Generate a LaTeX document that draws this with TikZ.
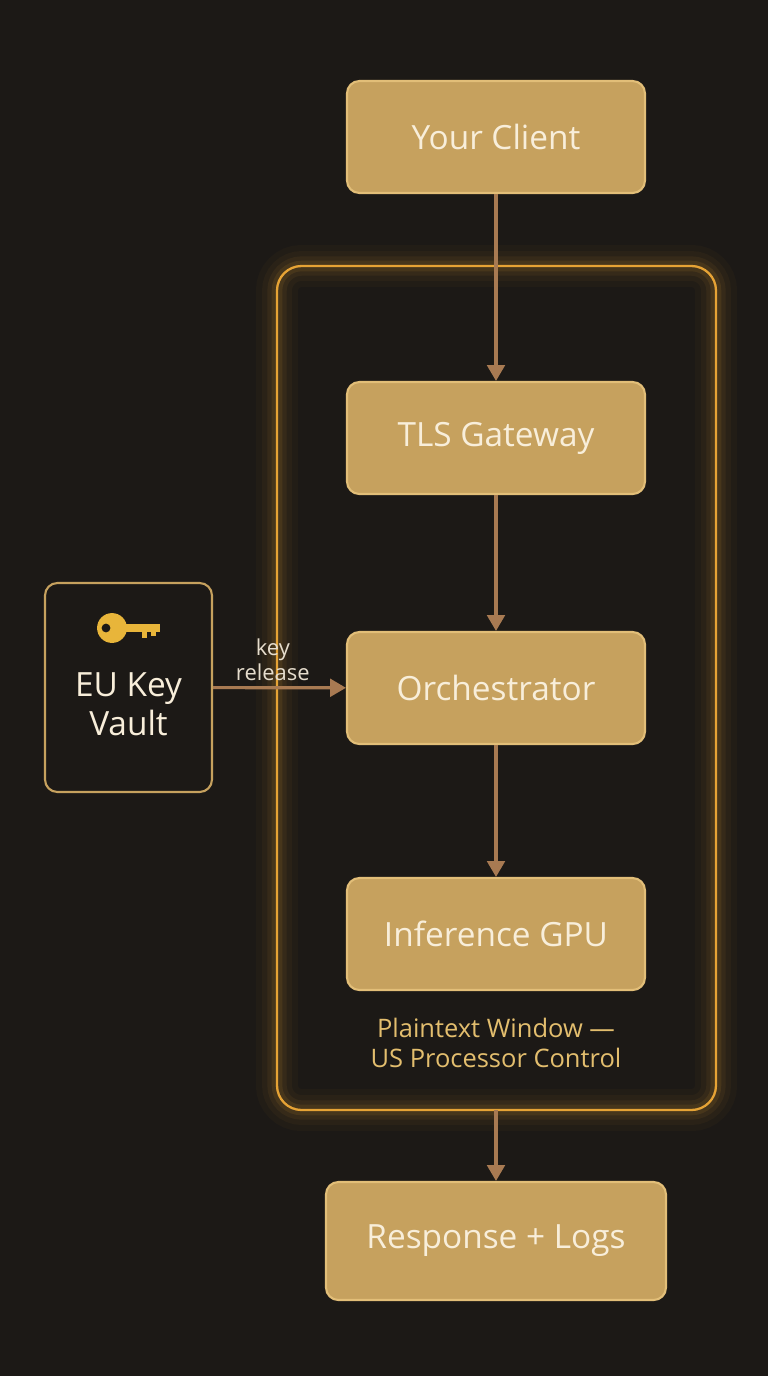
\documentclass[tikz,border=0pt]{standalone}
\usepackage{fontspec}
\setmainfont{Open Sans}
\usetikzlibrary{arrows.meta,positioning}
\definecolor{bgdark}{HTML}{1C1916}
\definecolor{boxfill}{HTML}{C6A15E}
\definecolor{boxline}{HTML}{E2BE78}
\definecolor{boxtext}{HTML}{F8EEDA}
\definecolor{flow}{HTML}{A87A52}
\definecolor{glow}{HTML}{E6A335}
\definecolor{caption}{HTML}{E3BE6E}
\definecolor{keygold}{HTML}{E8B53A}

\begin{document}
\begin{tikzpicture}[x=0.02cm,y=-0.02cm,
  every node/.style={align=center},
  stage/.style={draw=boxline,line width=1.2pt,rounded corners=7pt,fill=boxfill,
    text=boxtext,font=\fontsize{19}{22}\selectfont,minimum width=5.96cm,minimum height=2.24cm},
  vault/.style={draw=boxfill,line width=1.2pt,rounded corners=7pt,fill=bgdark,
    text=boxtext,font=\fontsize{19}{22}\selectfont,minimum width=3.34cm,minimum height=4.18cm},
  to/.style={-{Triangle[length=9pt,width=10pt]},draw=flow,line width=1.8pt}]

  % background and bounds
  \fill[bgdark] (0,0) rectangle (768,1376);
  \useasboundingbox (0,0) rectangle (768,1376);

  % glowing window
  \foreach \w/\o in {24/0.03,17/0.045,11/0.065,6/0.1}
    \draw[glow,line width=\w pt,opacity=\o,rounded corners=14pt] (277,266) rectangle (716,1110);
  \draw[glow,line width=1.3pt,rounded corners=14pt] (277,266) rectangle (716,1110);

  % nodes
  \node[stage] (client) at (496,137) {Your Client};
  \node[stage] (tls) at (496,438) {TLS Gateway};
  \node[stage] (orch) at (496,688) {Orchestrator};
  \node[stage] (gpu) at (496,934) {Inference GPU};
  \node[text=caption,font=\fontsize{14.5}{17}\selectfont] (window) at (496,1043)
    {Plaintext Window —\\US Processor Control};
  \node[stage,minimum width=6.8cm,minimum height=2.36cm] (resp) at (496,1241) {Response + Logs};
  \node[vault] (vault) at (128.5,687.5) {};
  \node[text=boxtext,font=\fontsize{19}{22}\selectfont] (vaultname) at (128.5,704) {EU Key\\Vault};

  % key icon
  \begin{scope}[keygold]
    \fill (112,628) circle (8.5pt);
    \fill[bgdark] (106,628) circle (2.5pt);
    \fill (118,624) rectangle (160,632);
    \fill (142,630) rectangle (147,638);
    \fill (151,630) rectangle (156,636);
  \end{scope}

  % connectors
  \draw[to] (client) -- (tls);
  \draw[to] (tls) -- (orch);
  \draw[to] (orch) -- (gpu);
  \coordinate (winbot) at (496,1110);
  \draw[to] (winbot) -- (resp);
  \draw[to] (vault) -- node[above,text=boxtext!85!gray,font=\fontsize{12.5}{14}\selectfont,pos=0.45] {key\\release} (orch);
\end{tikzpicture}
\end{document}
